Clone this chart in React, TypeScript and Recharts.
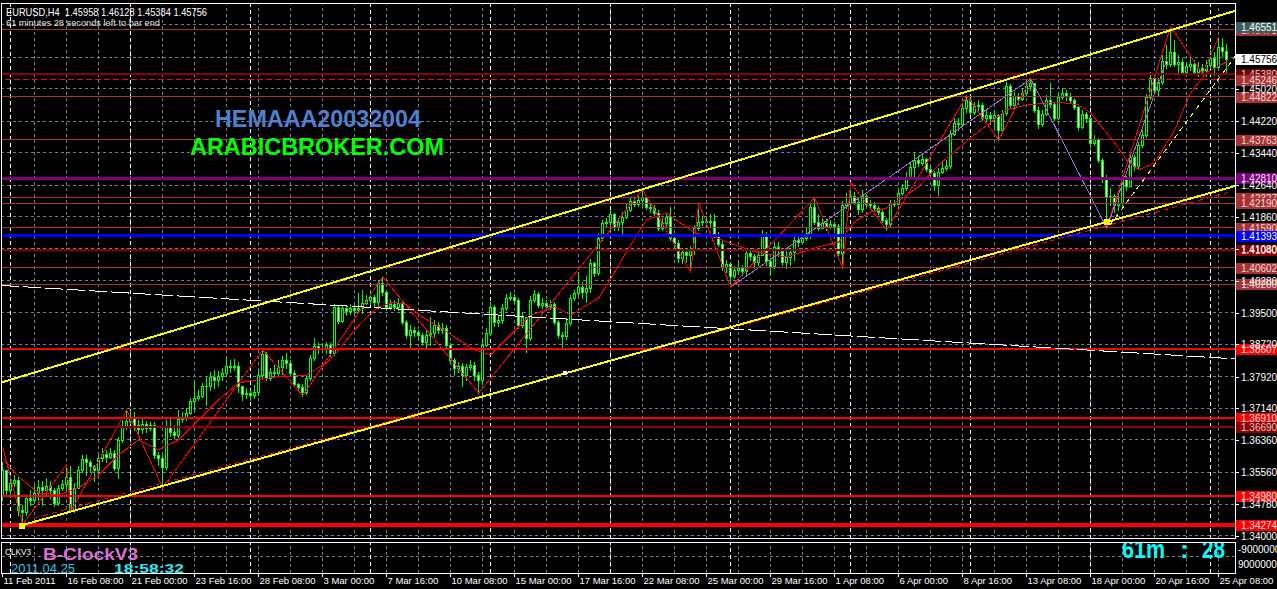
import React from 'react';
import { ComposedChart, Bar, Line, XAxis, YAxis, ReferenceLine, ReferenceDot } from 'recharts';

const FONT = '"Liberation Sans", Arial, Helvetica, sans-serif';
const W = 1277;
const MAIN_H = 541;
const X_DOMAIN: [number, number] = [-0.425, 308.075];
const Y_DOMAIN: [number, number] = [1.33918, 1.47133];

// ---------------- DATA (EURUSD H4) ----------------
const symbol = 'EURUSD,H4';
const firstOpen = 1.35;

const closes = [
  1.3562,1.3513,1.3530,1.3538,1.3464,1.3459,1.3493,1.3488,1.3506,1.3520,
  1.3513,1.3523,1.3513,1.3481,1.3518,1.3528,1.3545,1.3464,1.3518,1.3562,
  1.3589,1.3582,1.3572,1.3562,1.3592,1.3602,1.3594,1.3604,1.3567,1.3636,
  1.3668,1.3683,1.3693,1.3673,1.3663,1.3676,1.3666,1.3673,1.3599,1.3592,
  1.3570,1.3671,1.3656,1.3648,1.3688,1.3693,1.3703,1.3732,1.3740,1.3745,
  1.3769,1.3769,1.3791,1.3784,1.3794,1.3801,1.3819,1.3816,1.3819,1.3769,
  1.3750,1.3752,1.3747,1.3754,1.3796,1.3848,1.3789,1.3804,1.3801,1.3816,
  1.3833,1.3826,1.3801,1.3774,1.3767,1.3754,1.3789,1.3838,1.3868,1.3861,
  1.3863,1.3870,1.3851,1.3964,1.3930,1.3962,1.3954,1.3962,1.3957,1.3962,
  1.3974,1.3981,1.3989,1.3976,1.4023,1.4001,1.3964,1.3971,1.3964,1.3974,
  1.3927,1.3895,1.3907,1.3902,1.3895,1.3878,1.3895,1.3900,1.3920,1.3907,
  1.3912,1.3870,1.3833,1.3814,1.3819,1.3796,1.3816,1.3821,1.3796,1.3784,
  1.3870,1.3900,1.3964,1.3927,1.3932,1.3962,1.3986,1.3989,1.3981,1.3920,
  1.3939,1.3888,1.3981,1.3996,1.3969,1.3974,1.3967,1.3971,1.3927,1.3895,
  1.3893,1.3925,1.3986,1.3999,1.4013,1.4001,1.4011,1.4073,1.4048,1.4134,
  1.4171,1.4174,1.4193,1.4161,1.4174,1.4186,1.4203,1.4225,1.4218,1.4228,
  1.4235,1.4211,1.4208,1.4196,1.4159,1.4171,1.4186,1.4134,1.4122,1.4085,
  1.4100,1.4092,1.4105,1.4159,1.4174,1.4176,1.4174,1.4176,1.4142,1.4119,
  1.4063,1.4070,1.4041,1.4055,1.4060,1.4053,1.4097,1.4090,1.4075,1.4092,
  1.4144,1.4077,1.4065,1.4112,1.4105,1.4075,1.4087,1.4100,1.4129,1.4124,
  1.4134,1.4144,1.4211,1.4174,1.4159,1.4171,1.4161,1.4169,1.4164,1.4097,
  1.4216,1.4221,1.4238,1.4223,1.4206,1.4238,1.4218,1.4216,1.4208,1.4198,
  1.4179,1.4169,1.4221,1.4218,1.4245,1.4257,1.4285,1.4309,1.4326,1.4319,
  1.4329,1.4304,1.4294,1.4265,1.4297,1.4307,1.4312,1.4391,1.4418,1.4415,
  1.4455,1.4474,1.4445,1.4460,1.4462,1.4430,1.4437,1.4430,1.4437,1.4400,
  1.4442,1.4509,1.4462,1.4484,1.4477,1.4491,1.4509,1.4516,1.4450,1.4415,
  1.4440,1.4474,1.4465,1.4430,1.4482,1.4491,1.4484,1.4474,1.4457,1.4408,
  1.4440,1.4430,1.4368,1.4378,1.4326,1.4285,1.4235,1.4238,1.4216,1.4221,
  1.4282,1.4262,1.4334,1.4312,1.4363,1.4388,1.4482,1.4529,1.4499,1.4519,
  1.4571,1.4563,1.4593,1.4563,1.4568,1.4543,1.4558,1.4563,1.4543,1.4553,
  1.4548,1.4560,1.4578,1.4556,1.4605,1.45958,1.45756,
];

const highs = [
  1.3582,1.3562,1.3543,1.3550,1.3547,1.3476,1.3501,1.3513,1.3525,1.3538,
  1.3535,1.3543,1.3535,1.3518,1.3525,1.3538,1.3575,1.3572,1.3530,1.3572,
  1.3599,1.3599,1.3587,1.3575,1.3599,1.3616,1.3612,1.3616,1.3612,1.3644,
  1.3686,1.3710,1.3710,1.3705,1.3686,1.3690,1.3683,1.3680,1.3680,1.3607,
  1.3599,1.3686,1.3690,1.3673,1.3710,1.3705,1.3715,1.3740,1.3784,1.3760,
  1.3777,1.3791,1.3804,1.3809,1.3806,1.3814,1.3838,1.3833,1.3836,1.3828,
  1.3764,1.3764,1.3760,1.3772,1.3809,1.3858,1.3853,1.3814,1.3821,1.3833,
  1.3843,1.3851,1.3833,1.3809,1.3777,1.3774,1.3796,1.3846,1.3888,1.3875,
  1.3875,1.3878,1.3875,1.3971,1.3969,1.3969,1.3969,1.3971,1.3969,1.3999,
  1.4006,1.3994,1.4006,1.3994,1.4031,1.4038,1.4006,1.3981,1.3981,1.3986,
  1.3981,1.3932,1.3920,1.3915,1.3907,1.3900,1.3907,1.3939,1.3932,1.3927,
  1.3925,1.3920,1.3875,1.3838,1.3828,1.3826,1.3823,1.3833,1.3828,1.3804,
  1.3883,1.3912,1.3976,1.3969,1.3944,1.3971,1.3996,1.4001,1.3996,1.3986,
  1.3951,1.3937,1.3991,1.4006,1.4001,1.3986,1.3981,1.3981,1.3976,1.3932,
  1.3902,1.3937,1.3994,1.4006,1.4050,1.4026,1.4041,1.4082,1.4075,1.4147,
  1.4179,1.4184,1.4203,1.4196,1.4184,1.4198,1.4221,1.4233,1.4233,1.4238,
  1.4253,1.4240,1.4221,1.4216,1.4203,1.4184,1.4193,1.4211,1.4142,1.4129,
  1.4110,1.4110,1.4115,1.4166,1.4221,1.4189,1.4189,1.4193,1.4193,1.4149,
  1.4127,1.4080,1.4075,1.4065,1.4073,1.4068,1.4105,1.4110,1.4095,1.4105,
  1.4154,1.4149,1.4085,1.4124,1.4124,1.4110,1.4107,1.4110,1.4137,1.4139,
  1.4144,1.4159,1.4221,1.4233,1.4193,1.4184,1.4181,1.4179,1.4174,1.4169,
  1.4225,1.4245,1.4253,1.4248,1.4233,1.4253,1.4243,1.4228,1.4223,1.4213,
  1.4203,1.4184,1.4228,1.4228,1.4253,1.4267,1.4297,1.4319,1.4346,1.4334,
  1.4339,1.4331,1.4312,1.4299,1.4307,1.4322,1.4326,1.4400,1.4430,1.4430,
  1.4465,1.4484,1.4479,1.4469,1.4474,1.4467,1.4450,1.4445,1.4450,1.4440,
  1.4450,1.4519,1.4514,1.4494,1.4491,1.4504,1.4519,1.4526,1.4514,1.4460,
  1.4450,1.4487,1.4516,1.4469,1.4491,1.4504,1.4499,1.4491,1.4479,1.4460,
  1.4450,1.4445,1.4432,1.4388,1.4381,1.4331,1.4290,1.4257,1.4243,1.4238,
  1.4290,1.4287,1.4344,1.4339,1.4371,1.4400,1.4489,1.4543,1.4533,1.4529,
  1.4585,1.4610,1.46551,1.4622,1.4585,1.4578,1.4568,1.4578,1.4573,1.4568,
  1.4563,1.4573,1.4598,1.4593,1.4630,1.4627,1.46128,
];

const lows = [
  1.3488,1.3501,1.3496,1.3523,1.3451,1.34274,1.3451,1.3476,1.3481,1.3488,
  1.3476,1.3503,1.3493,1.3473,1.3476,1.3513,1.3513,1.3459,1.3459,1.3518,
  1.3557,1.3550,1.3557,1.3535,1.3555,1.3584,1.3582,1.3592,1.3562,1.3543,
  1.3631,1.3663,1.3678,1.3661,1.3648,1.3653,1.3656,1.3661,1.3592,1.3575,
  1.3518,1.3565,1.3646,1.3641,1.3644,1.3681,1.3686,1.3700,1.3710,1.3735,
  1.3742,1.3722,1.3760,1.3764,1.3769,1.3784,1.3794,1.3804,1.3809,1.3755,
  1.3735,1.3740,1.3735,1.3740,1.3747,1.3791,1.3784,1.3784,1.3794,1.3796,
  1.3799,1.3814,1.3796,1.3769,1.3760,1.3745,1.3750,1.3784,1.3833,1.3851,
  1.3853,1.3851,1.3843,1.3846,1.3925,1.3927,1.3944,1.3947,1.3947,1.3949,
  1.3949,1.3971,1.3971,1.3967,1.3962,1.3994,1.3959,1.3959,1.3957,1.3957,
  1.3922,1.3888,1.3861,1.3893,1.3885,1.3870,1.3861,1.3870,1.3890,1.3900,
  1.3900,1.3865,1.3826,1.3796,1.3804,1.3769,1.3784,1.3809,1.3784,1.3752,
  1.3774,1.3868,1.3895,1.3917,1.3917,1.3925,1.3957,1.3981,1.3974,1.3912,
  1.3915,1.3853,1.3883,1.3976,1.3964,1.3962,1.3959,1.3959,1.3922,1.3888,
  1.3865,1.3885,1.3920,1.3981,1.3994,1.3986,1.3976,1.4001,1.4041,1.4043,
  1.4129,1.4164,1.4149,1.4154,1.4154,1.4139,1.4184,1.4201,1.4213,1.4213,
  1.4216,1.4206,1.4198,1.4191,1.4154,1.4154,1.4164,1.4129,1.4112,1.4075,
  1.4073,1.4075,1.4050,1.4095,1.4154,1.4166,1.4164,1.4164,1.4137,1.4115,
  1.4055,1.4050,1.4013,1.4036,1.4045,1.4043,1.4045,1.4080,1.4060,1.4068,
  1.4092,1.4068,1.4043,1.4060,1.4090,1.4068,1.4060,1.4068,1.4080,1.4115,
  1.4124,1.4129,1.4134,1.4169,1.4154,1.4159,1.4154,1.4159,1.4154,1.4090,
  1.4060,1.4208,1.4216,1.4218,1.4193,1.4198,1.4213,1.4208,1.4203,1.4193,
  1.4174,1.4154,1.4164,1.4213,1.4218,1.4240,1.4253,1.4282,1.4282,1.4312,
  1.4314,1.4299,1.4287,1.4253,1.4240,1.4294,1.4302,1.4307,1.4388,1.4400,
  1.4413,1.4445,1.4440,1.4440,1.4450,1.4425,1.4420,1.4415,1.4405,1.4376,
  1.4395,1.4437,1.4455,1.4455,1.4465,1.4474,1.4484,1.4499,1.4445,1.4405,
  1.4410,1.4437,1.4457,1.4425,1.4428,1.4477,1.4474,1.4467,1.4452,1.4400,
  1.4405,1.4420,1.4361,1.4363,1.4322,1.4272,1.4159,1.4216,1.4198,1.4203,
  1.4216,1.4253,1.4272,1.4302,1.4307,1.4358,1.4383,1.4477,1.4491,1.4487,
  1.4514,1.4553,1.4558,1.4558,1.4543,1.4538,1.4536,1.4548,1.4538,1.4534,
  1.4538,1.4534,1.4553,1.4536,1.4553,1.4583,1.45384,
];

// x-axis labels (bar index, text)
const xLabelBars = [0,16,32,48,64,80,96,112,128,144,160,176,192,208,224,240,256,272,288,304];
const xLabels = [
  '11 Feb 2011','16 Feb 08:00','21 Feb 00:00','23 Feb 16:00','28 Feb 08:00','3 Mar 00:00',
  '7 Mar 16:00','10 Mar 08:00','15 Mar 00:00','17 Mar 16:00','22 Mar 08:00','25 Mar 00:00',
  '29 Mar 16:00','1 Apr 08:00','6 Apr 00:00','8 Apr 16:00','13 Apr 08:00','18 Apr 00:00',
  '20 Apr 16:00','25 Apr 08:00',
];
// weekly period separators (Monday 00:00 bars)
const separatorBars = [2,32,62,92,122,152,182,212,242,272,302];

// price scale
const yTickValues = [1.34,1.3478,1.3556,1.3636,1.3714,1.3792,1.3872,1.395,1.4028,1.4108,1.4186,1.4264,1.4344,1.4422,1.4502];
const yGridValues = [...yTickValues, 1.458, 1.466];

// horizontal price lines drawn on the chart
const levelPrices = [1.46473,1.4538,1.45246,1.44822,1.43763,1.4281,1.42327,1.4219,1.4159,1.41393,1.4104,1.40602,1.402,1.38607,1.3691,1.3669,1.3498,1.34274];

// trend channel and other objects: [bar, price]
const upperChannel = [[-0.425, 1.37775],[308.075, 1.4694]];
const lowerChannel = [[4.575, 1.3425],[308.075, 1.4262]];
const lowerChannelShadow = [[8, 1.34436],[306.3, 1.4246]];
const shortTrend = [[276.8, 1.4166],[308.075, 1.4581]];
const longAverage = [[-0.425, 1.4017],[308.075, 1.3836]];
const anchorsYellow = [[4.7, 1.3425],[276, 1.4174]];
const anchorsWhite = [[140.6, 1.3801]];

// indicators
const movingAverage = [
  [0,1.3590],[4,1.3545],[9,1.3505],[14,1.3501],[19,1.3518],[24,1.3550],[29,1.3599],[34,1.3636],
  [39,1.3612],[44,1.3636],[49,1.3686],[54,1.3735],[59,1.3777],[68,1.3791],[76,1.3796],[81,1.3826],
  [84,1.3858],[88,1.3907],[91,1.3939],[94,1.3964],[98,1.3976],[101,1.3969],[105,1.3939],[109,1.3915],
  [114,1.3883],[118,1.3858],[122,1.3846],[127,1.3895],[132,1.3944],[138,1.3964],[142,1.3944],[149,1.3986],
  [153,1.4050],[157,1.4117],[161,1.4179],[166,1.4196],[169,1.4174],[173,1.4147],[178,1.4137],[181,1.4124],
  [188,1.4100],[196,1.4087],[204,1.4112],[209,1.4124],[213,1.4174],[217,1.4198],[221,1.4208],[225,1.4233],
  [229,1.4260],[234,1.4314],[242,1.4381],[251,1.4450],[256,1.4462],[264,1.4469],[269,1.4462],[272,1.4442],
  [278,1.4368],[281,1.4326],[284,1.4302],[288,1.4319],[293,1.4400],[297,1.4492],[301,1.4543],[306,1.4568],
];
const zigzag = [
  [0,1.3619],[5,1.34274],[16,1.3575],[17,1.3459],[31,1.3710],[40,1.3518],[65,1.3858],[75,1.3745],
  [95,1.4038],[119,1.3752],[160,1.4253],[172,1.4050],[174,1.4221],[182,1.4013],[203,1.4233],[210,1.4060],
  [212,1.4270],[221,1.4154],[241,1.4484],[249,1.4376],[257,1.4526],[276,1.4159],[292,1.46551],[300,1.4538],[304,1.4630],
];
const zigzagMajor = [[182,1.4013],[257,1.4526],[276,1.4159],[291,1.4573]];

// B-Clock panel
const clockDate = '2011.04.25';
const clockTime = '18:58:32';
const barLeftMin = 61;
const barLeftSec = 28;
const panelTicks = [-9000000, 9000000];

// ---------------- derived rows ----------------
const rows = closes.map((c, i) => {
  const o = i === 0 ? firstOpen : closes[i - 1];
  const h = Math.max(highs[i] ?? c, o, c);
  const l = Math.min(lows[i] ?? c, o, c);
  return { x: i, o, c, h, l, range: [l, h] };
});
const toRows = (pts: number[][]) => pts.map(([x, v]) => ({ x, v }));
const maRows = toRows(movingAverage);
const zzRows = toRows(zigzag);
const zzMajorRows = toRows(zigzagMajor);
const seg = (pts: number[][]) => pts.map(([x, y]) => ({ x, y }));
const gridBars = xLabelBars.flatMap((b) => [b, b + 8]).filter((b) => b > 0 && b <= 304);
const last = rows[rows.length - 1];
const highest = Math.max(...highs);

// ---------------- styles ----------------
const BROWN = '#A83232';
const levelStyles = [
  { stroke: BROWN, w: 1, tag: BROWN, fg: '#F2DADA' },
  { stroke: '#8B0000', w: 2, tag: '#6E0000', fg: '#E8C8C8' },
  { stroke: '#FF0000', w: 1, dash: '6 3', tag: BROWN, fg: '#F2DADA' },
  { stroke: BROWN, w: 1, tag: BROWN, fg: '#F2DADA' },
  { stroke: BROWN, w: 1, tag: BROWN, fg: '#F2DADA' },
  { stroke: '#800080', w: 3, tag: '#800080', fg: '#F0E0F0' },
  { stroke: BROWN, w: 1, tag: BROWN, fg: '#F2DADA' },
  { stroke: BROWN, w: 1, tag: BROWN, fg: '#F2DADA' },
  { stroke: BROWN, w: 1, tag: BROWN, fg: '#F2DADA' },
  { stroke: '#0000FF', w: 3, tag: '#0000FF', fg: '#FFFFFF' },
  { stroke: '#8B0000', w: 2, tag: '#8B0000', fg: '#E8C8C8' },
  { stroke: BROWN, w: 1, tag: BROWN, fg: '#F2DADA' },
  { stroke: BROWN, w: 1, tag: BROWN, fg: '#F2DADA' },
  { stroke: '#FF0000', w: 2, tag: '#FF0000', fg: '#FFE0E0' },
  { stroke: '#FF0000', w: 2, tag: '#FF0000', fg: '#FFE0E0' },
  { stroke: '#8B0000', w: 2, tag: '#8B0000', fg: '#E8C8C8' },
  { stroke: '#FF0000', w: 2, tag: '#FF0000', fg: '#FFE0E0' },
  { stroke: '#FF0000', w: 4, tag: '#FF0000', fg: '#FFE0E0' },
];
const GRID = '#708090';

const makeTag = (text: string, bg: string, fg: string) => (props: any) => {
  const vb = props.viewBox || {};
  const cy = Math.round(vb.y ?? 0);
  const left = Math.round((vb.x ?? 1) + (vb.width ?? 1234)) + 1;
  return (
    <g>
      <rect x={left} y={cy - 5} width={42} height={11} fill={bg} />
      <text x={left + 5} y={cy + 4} fill={fg} fontSize={10} fontFamily={FONT}>{text}</text>
    </g>
  );
};

const Candle = (props: any) => {
  const { x, y, width, height, payload } = props;
  if (x == null || y == null || !payload) return null;
  const { o, c, h, l } = payload;
  const top = Math.min(y, y + height);
  const span = Math.abs(height);
  const ppu = h > l ? span / (h - l) : 0;
  const yOf = (v: number) => top + (h - v) * ppu;
  const cx = Math.floor(x + width / 2) + 0.5;
  const bt = Math.round(Math.min(yOf(o), yOf(c))) + 0.5;
  const bb = Math.round(Math.max(yOf(o), yOf(c))) + 0.5;
  const bear = c < o;
  return (
    <g>
      <line x1={cx} x2={cx} y1={Math.round(top)} y2={Math.round(top + span) + 1} stroke="#00FF00" strokeWidth={1} />
      {bb - bt < 1 ? (
        <line x1={cx - 1.5} x2={cx + 1.5} y1={bt} y2={bt} stroke="#00FF00" strokeWidth={1} />
      ) : (
        <rect x={cx - 1} y={bt} width={2} height={bb - bt} fill={bear ? '#FFFFFF' : '#000000'} stroke="#00FF00" strokeWidth={1} />
      )}
    </g>
  );
};

const YTick = (p: any) => {
  const yy = Math.round(p.y) + 0.5;
  return (
    <g>
      <line x1={p.x} x2={p.x + 4} y1={yy} y2={yy} stroke="#FFFFFF" />
      <text x={p.x + 6} y={Math.round(p.y) + 4} fill="#FFFFFF" fontSize={10} fontFamily={FONT}>
        {Number(p.payload.value).toFixed(5)}
      </text>
    </g>
  );
};

const XTick = (p: any) => {
  const idx = xLabelBars.indexOf(p.payload.value);
  const px = Math.floor(p.x) + 0.5;
  return (
    <g>
      <line x1={px} x2={px} y1={p.y} y2={p.y + 4} stroke="#FFFFFF" />
      <text x={px + 1} y={p.y + 11} fill="#FFFFFF" fontSize={9.5} fontFamily={FONT}>{xLabels[idx]}</text>
    </g>
  );
};

const PanelTick = (p: any) => (
  <text x={p.x + 3} y={Math.round(p.y) + 4} fill="#FFFFFF" fontSize={10} fontFamily={FONT}>
    {String(p.payload.value)}
  </text>
);

const Square = (size: number, fill: string) => (p: any) => (
  <rect x={Math.round(p.cx - size / 2)} y={Math.round(p.cy - size / 2)} width={size} height={size} fill={fill} />
);

export default function App() {
  const header = `${symbol}  ${last.o.toFixed(5)} ${last.h.toFixed(5)} ${last.l.toFixed(5)} ${last.c.toFixed(5)}`;
  return (
    <div
      style={{
        position: 'absolute', left: 0, top: 0, width: W, height: 589,
        background: '#000000', overflow: 'hidden', shapeRendering: 'crispEdges' as any,
      }}
    >
      {/* grid layer (behind candles) */}
      <div style={{ position: 'absolute', left: 0, top: 0 }}>
        <ComposedChart width={W} height={MAIN_H} data={rows} margin={{ top: 3, right: 42, bottom: 2, left: 1 }}>
          <XAxis hide type="number" dataKey="x" domain={X_DOMAIN} allowDataOverflow />
          <YAxis hide type="number" domain={Y_DOMAIN} allowDataOverflow />
          {yGridValues.map((v) => (
            <ReferenceLine key={'hg' + v} y={v} stroke={GRID} strokeDasharray="3 3" ifOverflow="visible" />
          ))}
          {gridBars.map((b) => (
            <ReferenceLine key={'vg' + b} x={b} stroke={GRID} strokeDasharray="3 3" ifOverflow="visible" />
          ))}
          {separatorBars.map((b) => (
            <ReferenceLine key={'sp' + b} x={b} stroke="#FFFFFF" strokeDasharray="4 3" ifOverflow="visible" />
          ))}
        </ComposedChart>
      </div>

      {/* main price chart */}
      <div style={{ position: 'absolute', left: 0, top: 0 }}>
        <ComposedChart width={W} height={MAIN_H} data={rows} margin={{ top: 3, right: 0, bottom: 2, left: 1 }}>
          <XAxis hide type="number" dataKey="x" domain={X_DOMAIN} allowDataOverflow />
          <YAxis
            orientation="right" width={42} type="number" domain={Y_DOMAIN} allowDataOverflow
            ticks={yTickValues} interval={0} tickLine={false} axisLine={false} tickSize={0} tickMargin={0}
            tick={(p: any) => <YTick {...p} />}
          />
          <Bar dataKey="range" barSize={3} shape={Candle} isAnimationActive={false} />
          <Line data={maRows} dataKey="v" type="linear" stroke="#FF0000" strokeWidth={1} dot={false} activeDot={false} isAnimationActive={false} />
          <Line data={zzRows} dataKey="v" type="linear" stroke="#FF0000" strokeWidth={1} dot={false} activeDot={false} isAnimationActive={false} />
          <Line data={zzMajorRows} dataKey="v" type="linear" stroke="#9370DB" strokeWidth={1} dot={false} activeDot={false} isAnimationActive={false} />

          {levelPrices.map((p, i) => {
            const s = levelStyles[i];
            return (
              <ReferenceLine
                key={'lv' + p} y={p} stroke={s.stroke} strokeWidth={s.w}
                strokeDasharray={(s as any).dash} ifOverflow="visible"
                label={makeTag(p.toFixed(5), s.tag, s.fg)}
              />
            );
          })}
          <ReferenceLine y={highest} stroke="none" ifOverflow="visible" label={makeTag(highest.toFixed(5), '#3E5C5C', '#FFFFFF')} />
          <ReferenceLine y={last.c} stroke="none" ifOverflow="visible" label={makeTag(last.c.toFixed(5), '#FFFFFF', '#000000')} />

          <ReferenceLine segment={seg(longAverage)} stroke="#FFFFFF" strokeWidth={1} strokeDasharray="18 4" ifOverflow="visible" />
          <ReferenceLine segment={seg(lowerChannelShadow)} stroke="#FF0000" strokeWidth={1} strokeDasharray="5 4" ifOverflow="visible" />
          <ReferenceLine segment={seg(upperChannel)} stroke="#FFFF00" strokeWidth={2} ifOverflow="visible" />
          <ReferenceLine segment={seg(lowerChannel)} stroke="#FFFF00" strokeWidth={2} ifOverflow="visible" />
          <ReferenceLine segment={seg(shortTrend)} stroke="#FFFF00" strokeWidth={1} strokeDasharray="5 4" ifOverflow="visible" />
          {anchorsYellow.map(([bx, py]) => (
            <ReferenceDot key={'ay' + bx} x={bx} y={py} r={3} ifOverflow="visible" shape={Square(6, '#FFFF00')} />
          ))}
          {anchorsWhite.map(([bx, py]) => (
            <ReferenceDot key={'aw' + bx} x={bx} y={py} r={2} ifOverflow="visible" shape={Square(4, '#FFFFFF')} />
          ))}
        </ComposedChart>
      </div>

      {/* B-Clock indicator panel + time axis */}
      <div style={{ position: 'absolute', left: 0, top: MAIN_H }}>
        <ComposedChart width={W} height={48} data={rows} margin={{ top: 1, right: 0, bottom: 0, left: 1 }}>
          <XAxis
            type="number" dataKey="x" domain={X_DOMAIN} allowDataOverflow height={16}
            ticks={xLabelBars} interval={0} tickLine={false} axisLine={false} tickSize={0} tickMargin={0}
            tick={(p: any) => <XTick {...p} />}
          />
          <YAxis
            orientation="right" width={42} type="number" reversed domain={[-17400000, 19800000]} allowDataOverflow
            ticks={panelTicks} interval={0} tickLine={false} axisLine={false} tickSize={0} tickMargin={0}
            tick={(p: any) => <PanelTick {...p} />}
          />
          <ReferenceLine y={0} stroke={GRID} strokeDasharray="3 3" ifOverflow="visible" />
          {gridBars.map((b) => (
            <ReferenceLine key={'pvg' + b} x={b} stroke={GRID} strokeDasharray="3 3" ifOverflow="visible" />
          ))}
          {separatorBars.map((b) => (
            <ReferenceLine key={'psp' + b} x={b} stroke="#FFFFFF" strokeDasharray="4 3" ifOverflow="visible" />
          ))}
        </ComposedChart>
      </div>

      {/* frames and texts */}
      <svg width={W} height={589} style={{ position: 'absolute', left: 0, top: 0, pointerEvents: 'none' }}>
        <defs>
          <clipPath id="panelClip">
            <rect x={2} y={543} width={1233} height={30} />
          </clipPath>
        </defs>
        <rect x={1.5} y={3.5} width={1234} height={535} fill="none" stroke="#FFFFFF" />
        <rect x={1.5} y={542.5} width={1234} height={31} fill="none" stroke="#FFFFFF" />

        <text x={6} y={15.5} fill="#FFFFFF" fontSize={10.2} fontFamily={FONT} textLength={201} lengthAdjust="spacingAndGlyphs" style={{ whiteSpace: 'pre' }}>
          {header}
        </text>
        <text x={6} y={25.5} fill="#E0E0E0" fontSize={9.5} fontFamily={FONT} textLength={154} lengthAdjust="spacingAndGlyphs">
          {`${barLeftMin} minutes ${barLeftSec} seconds left to bar end`}
        </text>

        <text x={215} y={127} fill="#4E80CF" fontSize={23.4} fontWeight="bold" fontFamily={FONT} textLength={206} lengthAdjust="spacingAndGlyphs">
          HEMAAA20032004
        </text>
        <text x={190} y={155} fill="#00FF00" fontSize={23.4} fontWeight="bold" fontFamily={FONT} textLength={254} lengthAdjust="spacingAndGlyphs">
          ARABICBROKER.COM
        </text>

        <text x={5} y={555} fill="#FFFFFF" fontSize={8.5} fontFamily={FONT} textLength={26} lengthAdjust="spacingAndGlyphs">CLKV3</text>
        <text x={43} y={560} fill="#DA70D6" fontSize={17} fontWeight="bold" fontFamily={FONT} textLength={95} lengthAdjust="spacingAndGlyphs">B-ClockV3</text>
        <text x={11} y={572.5} fill="#2BC4E8" fontSize={12.5} fontFamily={FONT} textLength={64} lengthAdjust="spacingAndGlyphs">{clockDate}</text>
        <text x={114} y={572.5} fill="#33E6F2" fontSize={13} fontWeight="bold" fontFamily={FONT} textLength={70} lengthAdjust="spacingAndGlyphs">{clockTime}</text>
        <g clipPath="url(#panelClip)">
          <text fill="#00FFFF" fontSize={26} fontWeight="bold" fontFamily={FONT} y={558}>
            <tspan x={1122} textLength={43} lengthAdjust="spacingAndGlyphs">{`${barLeftMin}m`}</tspan>
            <tspan x={1180}>:</tspan>
            <tspan x={1202} textLength={23} lengthAdjust="spacingAndGlyphs">{String(barLeftSec)}</tspan>
          </text>
        </g>
      </svg>
    </div>
  );
}
